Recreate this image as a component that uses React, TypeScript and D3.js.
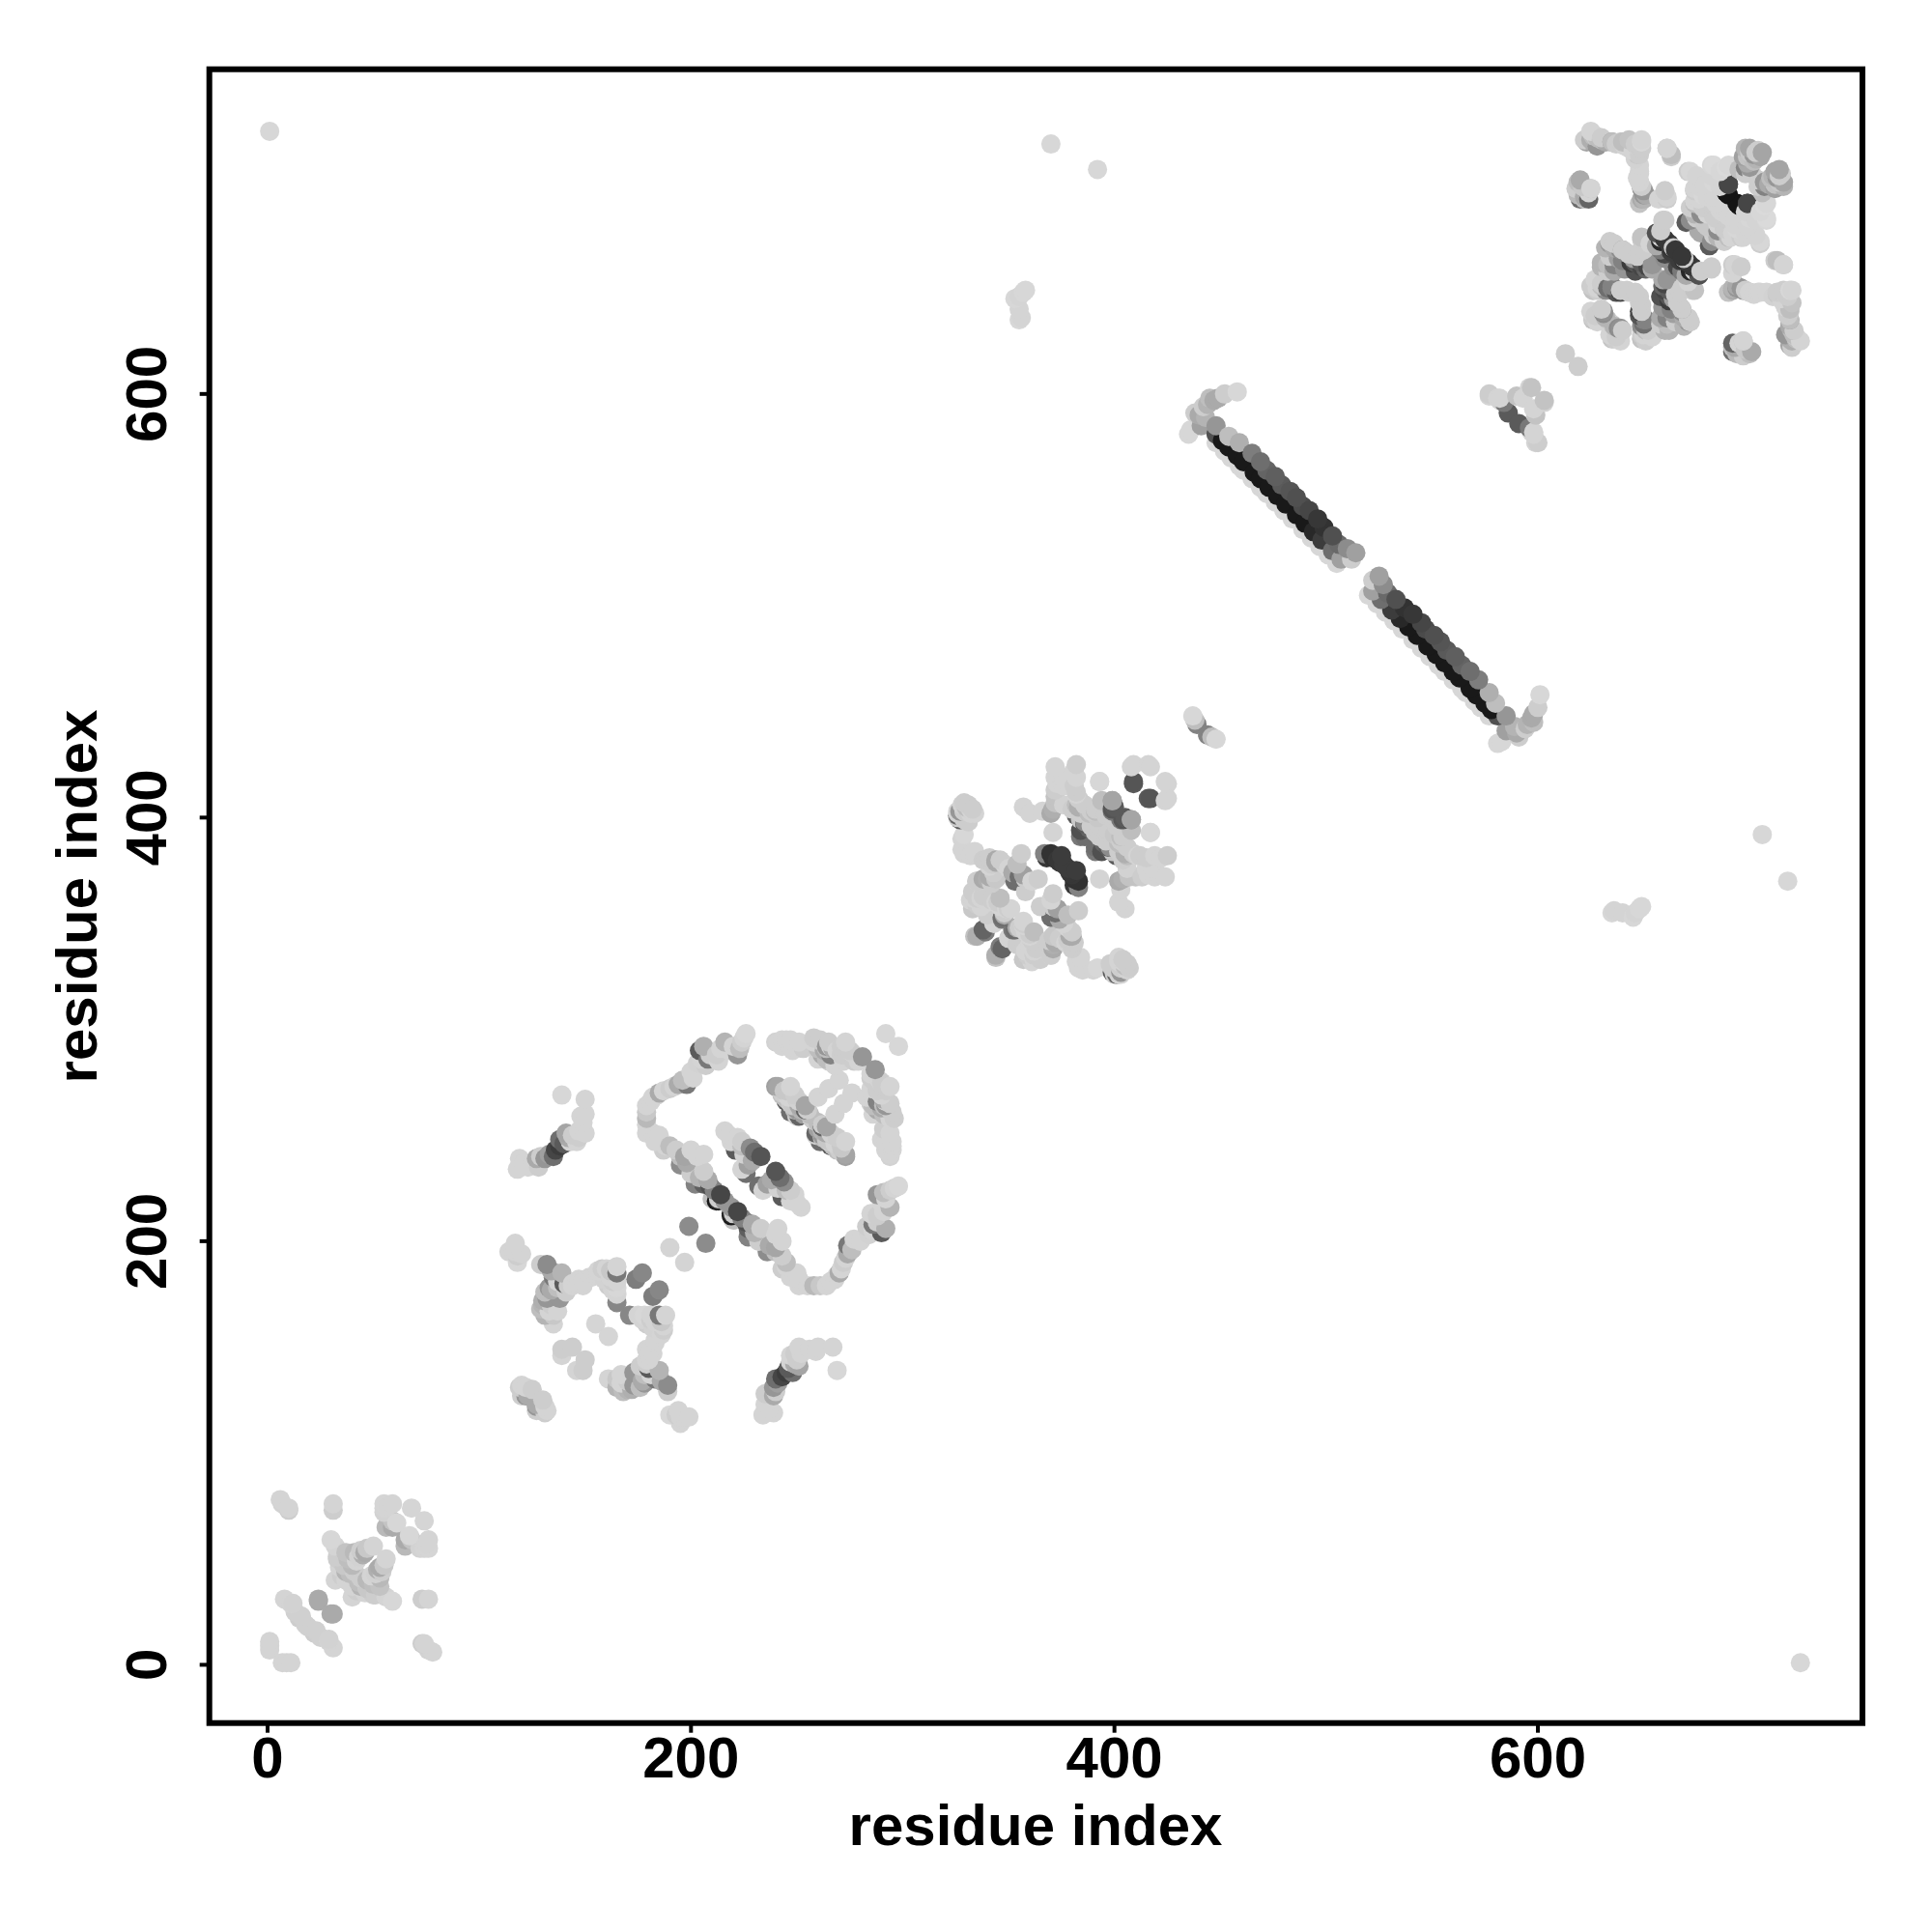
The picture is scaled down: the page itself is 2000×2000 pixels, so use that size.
import React from "react";
import * as d3 from "d3";

type C = [number, number, number];

const tickValues = [0, 200, 400, 600];
const axisTitle = "residue index";

// each contact is [residue i, residue j, gray level]; the map is symmetric, so each is drawn at (i,j) and (j,i)
const isolated: C[] = [[1,724,215],[370,718,215],[392,706,215],[353,645,215],[355,646,212],[357,648,215],[358,649,215],[356,636,212],[355,640,212],[613,619,205],[635,355,215]];

const domainA: C[] = [
  [6,78,212],[7,76,210],[10,74,212],[10,73,205],[31,76,212],[31,73,205],[30,59,215],[32,56,212],[33,51,205],
  [55,76,213],[59,76,212],[68,74,213],[61,67,215],[59,65,170],[59,68,195],[57,75,212],[56,65,185],[55,74,212],[55,72,210],
  [50,56,212],[46,53,170],[41,53,185],[37,53,195],[33,50,205],[42,49,212],[37,44,180],[32,40,212],[35,42,205],[41,44,205],[40,47,185],
  [8,31,212],[11,29,212],[15,22,205],[24,30,170],[24,31,170],[1,9,212],[1,7,212],[1,11,212],[12,29,210],[16,23,208],
  [44,54,205],[47,55,200],[38,50,190],[36,47,200],[43,51,210],[34,46,212],[37,40,212],[39,43,190],[45,52,175],[13,25,208],[18,19,208],
];

const domainB: C[] = [
  [117,197,212],[116,196,212],[120,194,212],[118,190,215],[129,189,205],[132,189,140],[139,185,180],[135,183,120],[142,179,205],[149,181,212],[155,184,212],[158,187,205],[165,188,212],[165,185,120],[161,179,205],[165,175,212],[165,171,135],
  [132,173,150],[130,170,180],[129,168,190],[135,165,200],[135,161,212],[155,161,213],[139,149,205],[144,150,205],[146,139,212],[122,131,212],[119,131,205],[122,127,150],[125,130,205],[177,185,135],[174,182,125],
  [150,267,212],[150,260,212],[149,256,212],[150,251,212],[146,247,212],[141,251,165],[138,248,110],[138,245,60],[135,240,110],[131,239,150],[127,239,170],[128,235,205],[123,235,212],[119,239,212],[118,234,212],[139,269,215],
  [134,186,170],[137,181,212],[144,180,212],[147,182,212],[152,183,212],[156,186,212],[160,187,212],[162,186,200],[163,181,205],[163,177,212],[159,182,210],[137,178,190],[133,178,150],[131,176,190],
  [130,172,175],[134,170,205],[133,167,212],[131,165,180],[137,167,212],[165,178,215],[165,181,212],
  [138,173,150],[134,177,170],[140,180,90],[162,183,212],[156,184,212],[153,183,212],[146,180,212],[149,179,212],[144,179,212],[141,176,205],
  [117,195,212],[118,193,205],[117,199,212],[114,195,212],[120,127,205],[123,127,170],[120,132,212],
  [148,259,212],[147,252,212],[147,249,205],[144,250,205],[143,247,212],[140,246,90],[136,243,70],[133,241,160],[129,240,205],[125,237,212],[121,237,212],[142,249,170],
];

const domainC: C[] = [
  [226,298,215],[224,294,205],[222,288,150],[218,290,212],[216,294,180],[212,288,205],[206,292,175],[204,290,90],[207,283,205],[200,280,212],[198,274,120],[194,274,170],[190,272,205],[185,270,170],[182,268,212],
  [179,264,212],[179,258,185],[179,251,212],[185,250,212],[187,243,205],[190,245,190],[197,240,165],[195,236,140],[203,240,212],[206,241,212],[206,233,205],[202,227,130],[206,227,95],[209,226,80],[214,222,70],[212,219,25],[210,220,190],[219,213,40],
  [216,252,212],[222,249,212],[221,243,90],[228,244,140],[233,240,85],[227,236,160],[226,232,110],[224,247,205],[218,250,212],
  [241,273,165],[244,271,200],[245,266,90],[249,269,205],[254,264,165],[247,261,110],[250,262,150],[260,268,212],[265,272,212],[270,276,212],[260,256,190],[259,251,100],[264,251,170],[267,250,205],[267,245,190],[273,247,212],[273,240,160],
  [241,294,212],[245,295,212],[251,294,212],[248,290,212],[262,294,200],[265,294,205],[262,288,170],[268,286,212],[273,294,212],[276,286,205],[281,287,150],[292,298,215],[277,285,205],[273,291,205],[266,288,130],[240,294,210],
  [199,207,140],[190,197,212],
  [225,296,212],[223,291,190],[220,292,212],[214,291,212],[213,285,212],[209,288,205],[205,286,212],[203,284,210],[208,286,120],[201,277,212],[196,276,190],[192,273,212],[187,271,212],[184,269,212],[181,266,212],[179,261,200],[179,255,212],[182,251,212],[183,247,212],[188,245,212],[193,243,205],[195,240,190],[198,237,170],[200,243,212],[200,232,205],[204,230,180],[208,229,170],[211,224,130],[213,220,205],[216,219,150],
  [219,247,212],[224,245,190],[225,241,210],[230,242,110],[229,238,170],[224,234,212],
  [243,269,190],[246,268,212],[247,265,205],[251,266,210],[252,262,180],[250,259,210],[255,262,205],[257,258,205],[260,253,160],[262,254,100],[264,248,200],[268,247,212],[262,249,190],[270,243,205],[271,245,200],
  [243,292,212],[247,292,212],[253,291,205],[258,294,212],[260,291,190],[264,291,190],[266,292,212],[269,290,212],[271,288,205],[272,285,212],[279,285,212],[260,286,212],[265,285,205],[268,283,212],[271,292,205],[276,289,212],[263,290,170],[264,286,190],
  [243,295,212],[247,295,212],[258,296,205],[261,295,205],[264,292,150],[267,291,170],[272,288,205],[275,290,205],
];

const domainD: C[] = [
  [328,406,210],[331,406,205],[334,402,212],[326,401,100],[328,390,212],[328,385,212],[334,383,212],[341,381,205],[344,380,170],[348,378,212],[340,371,175],[335,370,212],[344,371,200],[356,383,205],[357,405,212],[360,402,212],[370,402,170],[371,393,212],
  [372,424,212],[372,419,212],[372,413,205],[372,407,195],[382,425,205],[382,419,212],[382,412,205],[382,406,190],[382,401,90],[367,383,130],[370,383,50],[373,380,55],[374,379,55],[375,382,60],
  [384,394,80],[388,402,190],[392,400,200],[393,417,215],[399,408,160],[399,404,85],[399,403,120],[408,399,165],[405,400,90],[409,416,90],[409,425,212],[416,425,212],[417,409,85],[424,417,212],[424,408,212],[417,393,215],[405,383,175],[399,384,200],[393,391,205],[391,384,120],[396,393,205],
  [361,370,212],[355,372,110],[357,373,160],[337,362,212],[342,361,205],[332,361,212],[349,357,212],[347,353,110],[357,350,205],[352,347,120],[360,344,212],[339,346,125],[334,344,195],[347,338,100],[344,335,175],[357,338,205],[363,338,205],[357,333,200],[335,370,205],[345,372,200],[341,372,170],[344,379,170],
  [334,384,212],[329,383,212],[329,392,215],[332,402,212],[329,407,205],[327,399,90],[326,402,210],
  [373,421,212],[373,416,212],[372,410,195],[381,422,212],[381,415,205],[383,409,205],[380,404,205],[371,404,175],[366,403,212],
  [338,380,205],[342,378,205],[346,380,205],[350,376,212],[352,374,170],[354,378,190],[358,371,205],[338,371,170],[342,369,205],[333,365,205],[335,362,205],[337,358,212],[345,360,205],[348,354,170],[351,357,212],[350,343,212],[355,348,205],[358,346,212],[354,340,205],[360,340,212],[359,335,205],[362,333,212],[346,362,190],[353,370,110],[364,371,205],[365,358,205],
  [386,398,140],[386,391,110],[389,396,205],[391,404,205],[394,397,205],[395,388,100],[397,386,90],[402,384,205],[394,408,190],[396,402,205],[389,403,205],[401,396,205],[403,391,190],[406,386,205],[411,382,212],[418,376,212],[406,376,210],[376,415,212],
  [368,381,55],[371,381,50],[376,378,60],[377,341,212],[374,343,205],[380,339,205],[382,332,212],[399,329,205],[400,326,205],[403,329,212],[404,333,205],[403,326,212],[398,331,205],
  [329,403,205],[330,405,190],[327,403,150],[332,404,212],
];

const domainE: C[] = [
  [436,583,215],[435,581,215],[443,589,180],[442,594,205],[445,598,190],[449,598,170],[452,600,205],[458,601,215],[438,591,205],[437,448,215],[439,444,130],[438,446,190],[444,595,180],[447,597,170],[440,590,170],[441,585,160],
  [448,577,215],[452,573,215],[455,570,215],[459,566,215],[461,564,215],[465,560,215],[469,556,215],[472,553,215],[476,549,215],[480,545,215],[484,541,215],[489,536,215],[493,532,215],[497,528,215],[501,524,215],[505,520,215],
  [448,581,80],[451,578,25],[454,575,25],[458,571,25],[461,568,25],[466,563,25],[469,560,25],[473,556,25],[477,552,25],[481,548,25],[486,543,25],[490,539,25],[494,535,40],[498,531,60],[503,526,110],[507,522,160],
  [448,585,150],[454,580,190],[459,577,175],[465,572,125],[469,568,110],[472,564,100],[476,561,95],[479,557,90],[483,554,85],[486,551,80],[489,547,75],[492,545,70],[496,541,55],[499,537,50],[503,533,80],[506,529,105],[510,527,140],[514,525,160],[512,522,205],
  [577,599,212],[577,600,205],[582,597,212],[584,596,120],[586,591,90],[582,598,212],[597,603,195],[596,603,212],[590,599,195],[593,598,212],[581,598,212],
];

const domainF: C[] = [
  [623,719,165],[626,722,190],[630,720,190],[635,719,150],[639,719,205],[643,716,212],[649,719,215],[648,713,205],[661,716,205],[663,713,190],[619,700,190],[620,692,110],[624,695,212],[648,704,212],[649,697,145],[649,692,170],[660,694,212],[672,705,215],[683,708,218],[689,707,218],
  [700,716,165],[706,714,165],[700,707,150],[712,705,165],[715,704,205],[707,698,130],[716,698,180],[690,699,70],[690,694,20],[699,690,70],[695,689,20],[708,690,215],[708,682,215],[700,683,215],[674,696,205],[683,689,205],[672,682,140],[670,681,90],[675,684,205],
  [659,682,205],[662,671,60],[660,673,55],[657,675,55],[649,673,205],[669,664,205],[674,658,212],[682,660,205],[692,661,205],[696,660,205],[697,674,212],[683,675,205],[687,675,205],[705,671,205],[712,663,205],[716,661,212],
  [692,650,180],[696,650,150],[700,648,205],[705,648,212],[720,649,212],[713,647,200],[719,640,190],[722,627,205],[719,626,170],[692,622,190],[692,624,100],[697,625,195],[701,620,170],
  [634,671,150],[639,668,140],[630,662,180],[636,661,130],[644,662,60],[649,660,70],[654,659,170],[626,649,200],[632,649,140],[639,648,70],[642,649,205],[626,636,205],[631,639,145],[638,631,140],[639,625,212],[635,626,195],[648,643,205],[651,635,130],[652,630,205],[649,626,195],
  [660,652,70],[661,654,150],[662,649,90],[671,636,205],[633,661,190],[640,668,160],[638,661,130],[649,674,195],[648,667,205],
  [625,720,175],[628,721,190],[632,719,170],[637,718,205],[641,717,212],[645,715,212],[647,717,212],[646,711,210],[648,716,205],[618,697,205],[621,698,200],[619,694,185],[622,693,170],[625,697,212],[648,700,212],[650,694,150],[648,690,195],[661,693,212],[657,692,212],
  [675,703,212],[676,698,212],[678,694,215],[674,691,212],[672,688,205],[674,685,180],[680,686,212],[683,684,205],[686,687,212],[690,684,212],[693,683,212],[685,680,212],[688,678,205],[692,676,212],[695,680,212],[680,679,200],[685,677,140],[690,674,190],[677,676,170],[682,703,212],[686,705,215],[679,699,212],[686,698,212],[680,693,212],
  [702,713,150],[699,712,195],[703,711,180],[701,704,205],[698,704,205],[710,702,190],[712,697,160],[714,700,200],[706,695,190],[709,699,170],[714,703,205],
  [632,669,180],[636,669,170],[641,667,130],[646,662,85],[647,665,205],[638,664,160],[634,665,205],[633,658,205],[641,659,150],[646,658,80],[651,659,100],[628,649,205],[630,651,190],[635,650,130],[637,648,85],[630,640,205],[628,634,212],[633,635,205],[636,632,180],[637,627,205],[649,639,205],[650,633,110],[650,628,212],[651,625,205],[654,627,212],[648,646,205],
  [658,677,205],[663,669,50],[665,668,55],[656,676,80],[658,672,40],[667,663,60],[664,660,140],[666,660,70],[668,658,120],[670,656,170],[671,653,212],[668,650,205],[664,645,160],[666,643,205],[663,640,130],[668,640,205],[672,634,205],[666,634,205],[658,636,170],[660,630,180],
  [694,651,170],[698,649,205],[702,647,212],[708,648,212],[716,649,205],[718,646,205],[720,643,195],[719,635,190],[721,630,205],[717,628,150],[724,625,212],[720,622,205],
];

const contactSets = [isolated, domainA, domainB, domainC, domainD, domainE, domainF];

const W = 2000, H = 2000;
const L = 216.7, R = 1928, T = 71.7, B = 1783.7;
const FONT = "'Liberation Sans', Arial, sans-serif";

export default function App() {
  const x = d3.scaleLinear().domain([-27.5, 753.3]).range([L, R]);
  const y = d3.scaleLinear().domain([-27.5, 753.3]).range([B, T]);
  // contacts with a larger i + j sit above those with a smaller one
  const contacts: C[] = d3.sort(contactSets.flat(), (c) => c[0] + c[1]);
  return (
    <svg width={W} height={H} viewBox={`0 0 ${W} ${H}`} style={{ position: "absolute", left: 0, top: 0, background: "#fff" }}>
      <defs><clipPath id="plot"><rect x={L} y={T} width={R - L} height={B - T} /></clipPath></defs>
      <g clipPath="url(#plot)">
        {contacts.flatMap((c, k) => {
          const fill = d3.rgb(c[2], c[2], c[2]).formatHex();
          return [
            <circle key={`a${k}`} cx={x(c[0])} cy={y(c[1])} r={10} fill={fill} />,
            <circle key={`b${k}`} cx={x(c[1])} cy={y(c[0])} r={10} fill={fill} />,
          ];
        })}
      </g>
      <rect x={L} y={T} width={R - L} height={B - T} fill="none" stroke="#000" strokeWidth={6} />
      {tickValues.map((t) => (
        <g key={t}>
          <line x1={x(t)} x2={x(t)} y1={B} y2={B + 10} stroke="#000" strokeWidth={4} />
          <text x={x(t)} y={1840} fontFamily={FONT} fontWeight={700} fontSize={60} textAnchor="middle">{t}</text>
          <line x1={L} x2={L - 10} y1={y(t)} y2={y(t)} stroke="#000" strokeWidth={4} />
          <text transform={`translate(171.5,${y(t)}) rotate(-90)`} fontFamily={FONT} fontWeight={700} fontSize={60} textAnchor="middle">{t}</text>
        </g>
      ))}
      <text x={1072} y={1910} fontFamily={FONT} fontWeight={700} fontSize={60} textAnchor="middle">{axisTitle}</text>
      <text transform={`translate(100,928) rotate(-90)`} fontFamily={FONT} fontWeight={700} fontSize={60} textAnchor="middle">{axisTitle}</text>
    </svg>
  );
}
